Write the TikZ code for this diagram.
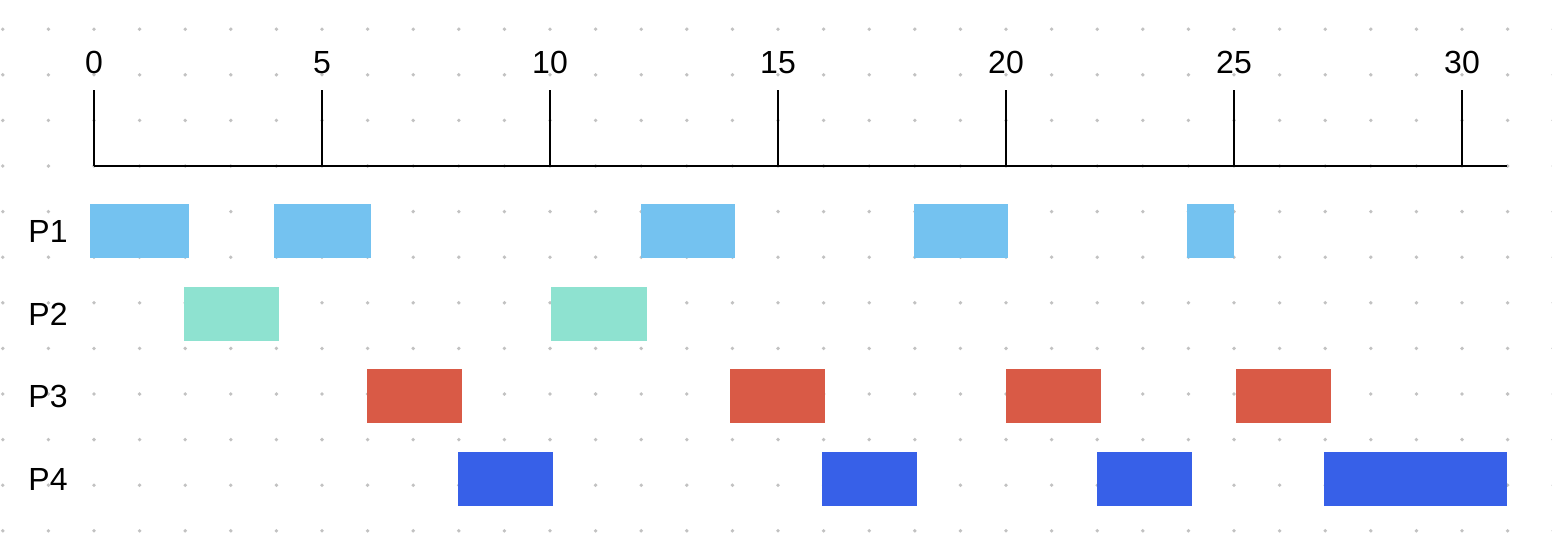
\documentclass[tikz,border=0pt]{standalone}
\usepackage{fontspec}
\setmainfont{Liberation Sans}
\definecolor{pone}{HTML}{74C2F0}
\definecolor{ptwo}{HTML}{8EE2D0}
\definecolor{pthree}{HTML}{D95A46}
\definecolor{pfour}{HTML}{3760E8}
\definecolor{dotgray}{HTML}{C2C2C2}
\begin{document}
\begin{tikzpicture}[x=0.5pt,y=-0.5pt,
  axisline/.style={line width=1pt, black},
  lbl/.style={font=\fontsize{16}{19}\selectfont, anchor=base, inner sep=0pt},
  onebar/.style={fill=pone},
  twobar/.style={fill=ptwo},
  threebar/.style={fill=pthree},
  fourbar/.style={fill=pfour}]
\useasboundingbox (0,0) rectangle (1552,552);
\fill[white] (0,0) rectangle (1552,552);
% dot grid
\foreach \i in {-2,...,32}{
  \foreach \j in {-3,...,8}{
    \fill[dotgray] (94+45.6*\i,166+45.6*\j) circle[radius=0.95pt];
  }
}
% axis
\coordinate (axstart) at (94,166);
\coordinate (axend) at (1507,166);
\draw[axisline] (axstart) -- (axend);
\foreach \t in {0,5,...,30}{
  \draw[axisline] (94+45.6*\t,90) -- (94+45.6*\t,166);
  \node[lbl] (tick\t) at (94+45.6*\t,73) {\t};
}
% row labels
\node[lbl] (P1) at (48,242.5) {P1};
\node[lbl] (P2) at (48,325.5) {P2};
\node[lbl] (P3) at (48,407.5) {P3};
\node[lbl] (P4) at (48,490.5) {P4};
% P1 bars
\path[onebar] (90,204) rectangle (189,257.5);
\path[onebar] (274,204) rectangle (371,257.5);
\path[onebar] (641,204) rectangle (735,257.5);
\path[onebar] (914,204) rectangle (1008,257.5);
\path[onebar] (1187,204) rectangle (1234,257.5);
% P2 bars
\path[twobar] (184,287) rectangle (279,341);
\path[twobar] (551,287) rectangle (647,341);
% P3 bars
\path[threebar] (367,369) rectangle (462,423);
\path[threebar] (730,369) rectangle (825,423);
\path[threebar] (1006,369) rectangle (1101,423);
\path[threebar] (1236,369) rectangle (1331,423);
% P4 bars
\path[fourbar] (458,452) rectangle (553,506);
\path[fourbar] (822,452) rectangle (917,506);
\path[fourbar] (1097,452) rectangle (1192,506);
\path[fourbar] (1324,452) rectangle (1507,506);
\end{tikzpicture}
\end{document}
